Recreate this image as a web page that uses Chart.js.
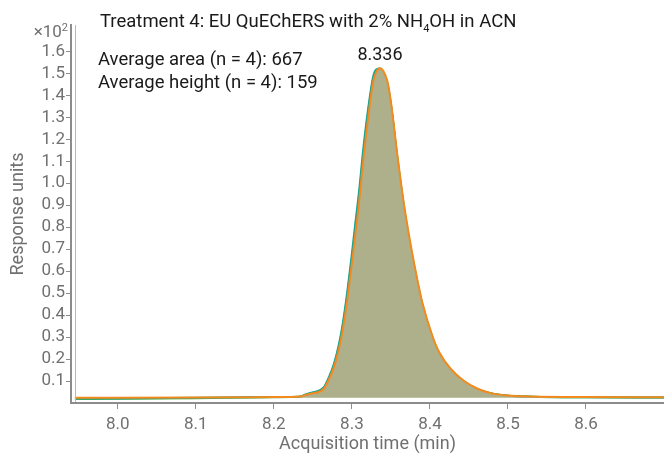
<!DOCTYPE html>
<html>
<head>
<meta charset="utf-8">
<script src="https://cdn.jsdelivr.net/npm/chart.js@4.4.1/dist/chart.umd.min.js"></script>
<style>
  html, body { margin: 0; padding: 0; background: #fff; }
  #wrap { width: 664px; height: 458px; }
</style>
</head>
<body>
<div id="wrap"><canvas id="chrom" width="664" height="458"></canvas></div>
<script>
// ---- data (response in x10^2 units) ----
const acqTimes = [7.945, 8.0, 8.1, 8.2, 8.235, 8.24, 8.247, 8.264, 8.270, 8.277, 8.283, 8.2875, 8.294, 8.2995, 8.3046, 8.3089, 8.3153, 8.323, 8.3274, 8.3315, 8.336, 8.3405, 8.3454, 8.3505, 8.3582, 8.3663, 8.3731, 8.3817, 8.3904, 8.4032, 8.4117, 8.4267, 8.4438, 8.4611, 8.4781, 8.50, 8.53, 8.60, 8.70];
const replicateOrange = [0.024, 0.024, 0.025, 0.027, 0.030, 0.036, 0.042, 0.065, 0.103, 0.163, 0.240, 0.317, 0.468, 0.620, 0.774, 0.902, 1.130, 1.358, 1.465, 1.508, 1.523, 1.510, 1.465, 1.358, 1.130, 0.915, 0.765, 0.600, 0.455, 0.305, 0.232, 0.155, 0.100, 0.065, 0.045, 0.034, 0.030, 0.027, 0.026];
const replicateTeal = [0.021, 0.021, 0.024, 0.027, 0.030, 0.038, 0.046, 0.072, 0.113, 0.178, 0.262, 0.345, 0.505, 0.665, 0.825, 0.955, 1.180, 1.395, 1.488, 1.518, 1.522, 1.500, 1.452, 1.342, 1.112, 0.897, 0.747, 0.584, 0.442, 0.295, 0.225, 0.151, 0.097, 0.062, 0.043, 0.033, 0.029, 0.026, 0.025];
const replicateGreen = [0.018, 0.019, 0.022, 0.026, 0.029, 0.037, 0.044, 0.069, 0.109, 0.172, 0.253, 0.333, 0.490, 0.645, 0.802, 0.932, 1.158, 1.380, 1.478, 1.514, 1.521, 1.503, 1.457, 1.348, 1.120, 0.905, 0.754, 0.591, 0.448, 0.300, 0.228, 0.153, 0.098, 0.063, 0.044, 0.033, 0.029, 0.026, 0.025];
const baselineLevel = 0.024;
const xTickValues = [8.0, 8.1, 8.2, 8.3, 8.4, 8.5, 8.6];
const yTickValues = [0.1, 0.2, 0.3, 0.4, 0.5, 0.6, 0.7, 0.8, 0.9, 1.0, 1.1, 1.2, 1.3, 1.4, 1.5, 1.6];
const peakTime = 8.336;
const peakLabel = '8.336';
const peakHeight = 1.523;
const titleParts = ['Treatment 4: EU QuEChERS with 2% NH', '4', 'OH in ACN'];
const infoLines = ['Average area (n = 4): 667', 'Average height (n = 4): 159'];

const axisGray = '#8c8c8c';
const labelGray = '#707070';
const FONT = 'Roboto';

function toPoints(ys) {
    return acqTimes.map((t, i) => ({ x: t, y: ys[i] }));
}

// texts drawn on top of the chart
const annotations = {
    id: 'annotations',
    afterDraw(chart) {
        const { ctx, chartArea, scales } = chart;
        ctx.save();

        // plot border line (light blue)
        ctx.strokeStyle = '#a9b8dc';
        ctx.lineWidth = 1;
        ctx.beginPath();
        ctx.moveTo(chartArea.left + 4.5, chartArea.top);
        ctx.lineTo(chartArea.left + 4.5, chartArea.bottom - 1);
        ctx.stroke();

        // title with subscript
        ctx.fillStyle = '#1a1a1a';
        ctx.textBaseline = 'alphabetic';
        ctx.textAlign = 'left';
        let x = 100;
        ctx.font = `18.5px ${FONT}`;
        ctx.fillText(titleParts[0], x, 27);
        x += ctx.measureText(titleParts[0]).width;
        ctx.font = `11px ${FONT}`;
        ctx.fillText(titleParts[1], x, 32);
        x += ctx.measureText(titleParts[1]).width;
        ctx.font = `18.5px ${FONT}`;
        ctx.fillText(titleParts[2], x, 27);

        // info lines
        ctx.fillText(infoLines[0], 98, 65);
        ctx.fillText(infoLines[1], 98, 88);

        // peak label
        ctx.textAlign = 'center';
        ctx.font = `18px ${FONT}`;
        ctx.fillText(peakLabel, scales.x.getPixelForValue(peakTime), scales.y.getPixelForValue(peakHeight) - 8);

        // exponent label
        ctx.fillStyle = labelGray;
        ctx.textAlign = 'right';
        ctx.font = `11px ${FONT}`;
        const supW = ctx.measureText('2').width;
        ctx.fillText('2', 68, 31);
        ctx.font = `17px ${FONT}`;
        ctx.fillText('\u00d710', 68 - supW, 37);

        ctx.restore();
    }
};

const ctx = document.getElementById('chrom').getContext('2d');
new Chart(ctx, {
    type: 'line',
    data: {
        datasets: [
            {
                label: 'Replicate 4',
                data: toPoints(replicateOrange),
                borderColor: '#f28a1e',
                backgroundColor: '#adb08b',
                fill: { value: baselineLevel },
                borderWidth: 2,
                pointRadius: 0,
                cubicInterpolationMode: 'monotone',
                order: 0
            },
            {
                label: 'Replicate 2',
                data: toPoints(replicateTeal),
                borderColor: '#1fa394',
                fill: false,
                borderWidth: 2,
                pointRadius: 0,
                cubicInterpolationMode: 'monotone',
                order: 1
            },
            {
                label: 'Replicate 1',
                data: toPoints(replicateGreen),
                borderColor: '#5aae3a',
                fill: false,
                borderWidth: 2,
                pointRadius: 0,
                cubicInterpolationMode: 'monotone',
                order: 2
            }
        ]
    },
    options: {
        responsive: false,
        animation: false,
        layout: { padding: { top: 25, right: 0, left: 0, bottom: 0 } },
        plugins: { legend: { display: false }, tooltip: { enabled: false } },
        scales: {
            x: {
                type: 'linear',
                min: 7.94,
                max: 8.70,
                afterBuildTicks: (scale) => { scale.ticks = xTickValues.map(v => ({ value: v })); },
                afterFit: (scale) => { scale.height = 55; },
                border: { display: true, color: axisGray, width: 2 },
                grid: { drawOnChartArea: false, color: axisGray, tickLength: 6, tickWidth: 1 },
                ticks: {
                    color: labelGray,
                    font: { family: FONT, size: 17 },
                    padding: 6,
                    maxRotation: 0,
                    callback: (v) => Number(v).toFixed(1)
                },
                title: {
                    display: true,
                    text: 'Acquisition time (min)',
                    color: labelGray,
                    font: { family: FONT, size: 18 },
                    padding: { top: 2, bottom: 3 }
                }
            },
            y: {
                min: 0,
                max: 1.72,
                afterBuildTicks: (scale) => { scale.ticks = yTickValues.map(v => ({ value: v })); },
                afterFit: (scale) => { scale.width = 71; },
                border: { display: true, color: axisGray, width: 2 },
                grid: { drawOnChartArea: false, color: axisGray, tickLength: 5, tickWidth: 1 },
                ticks: {
                    color: labelGray,
                    font: { family: FONT, size: 17 },
                    padding: 1,
                    callback: (v) => Number(v).toFixed(1)
                },
                title: {
                    display: true,
                    text: 'Response units',
                    color: labelGray,
                    font: { family: FONT, size: 18 },
                    padding: { top: 8, bottom: 0 }
                }
            }
        }
    },
    plugins: [annotations]
});
</script>
</body>
</html>
